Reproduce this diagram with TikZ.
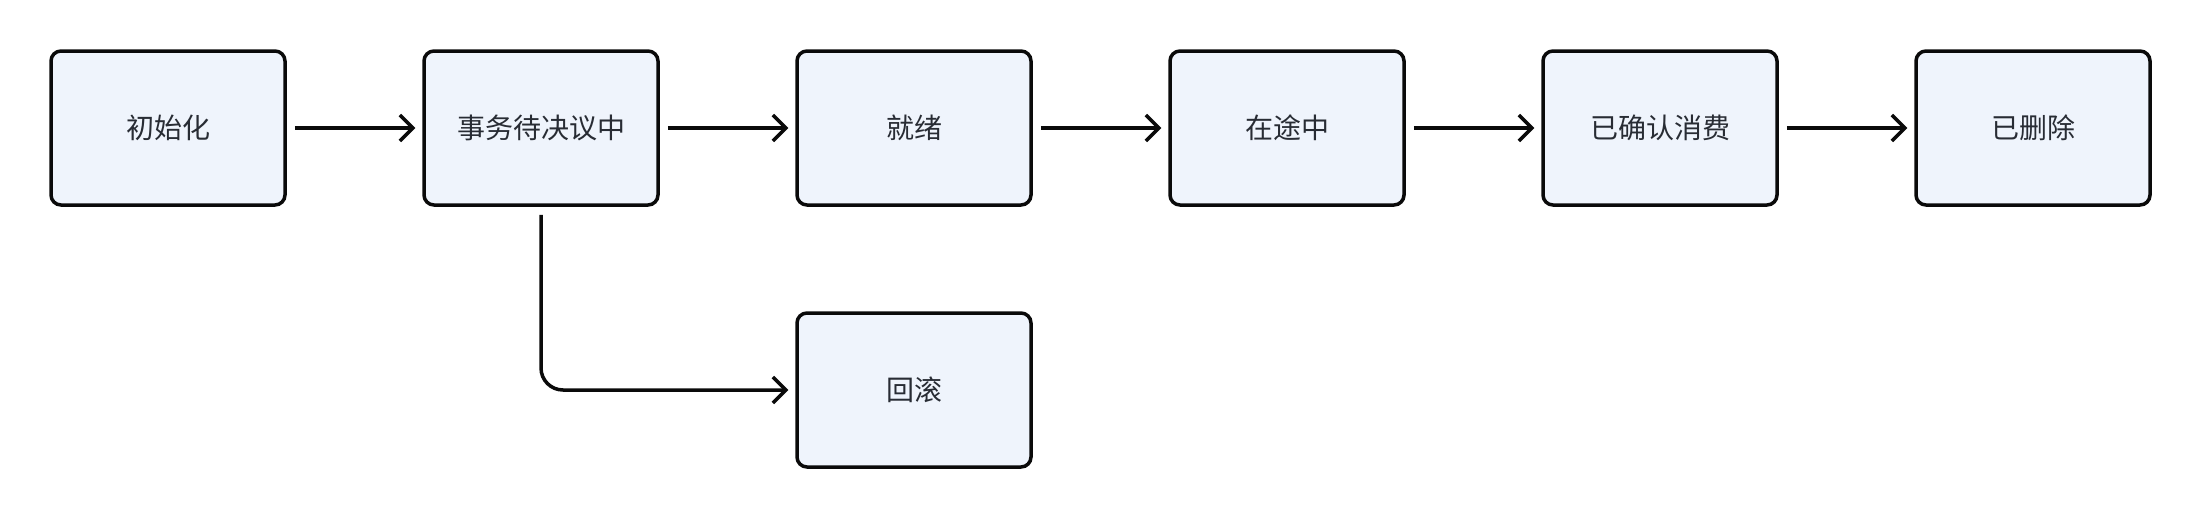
\documentclass[tikz,border=0pt]{standalone}
\usepackage{fontspec}
\newfontfamily\cjk{Noto Sans CJK SC}
\usetikzlibrary{arrows.meta}
\definecolor{boxfill}{RGB}{239,244,252}
\definecolor{boxline}{RGB}{10,10,10}
\definecolor{txt}{RGB}{40,44,52}
\tikzset{
  state/.style={draw=boxline, fill=boxfill, line width=3.5pt, rounded corners=10pt,
    minimum width=234pt, minimum height=154pt, inner sep=0pt,
    font=\cjk\fontsize{28pt}{32pt}\selectfont, text=txt},
  flow/.style={draw=boxline, line width=3.5pt,
    -{Straight Barb[length=13pt,width=26pt,line width=3.5pt]},
    shorten <=8pt, shorten >=7pt}
}
\begin{document}
\begin{tikzpicture}[x=1pt,y=-1pt]
\useasboundingbox (0,0) rectangle (2202,520);
\node[state] (init) at (168,128) {初始化};
\node[state] (pend) at (541,128) {事务待决议中};
\node[state] (ready) at (914,128) {就绪};
\node[state] (transit) at (1287,128) {在途中};
\node[state] (ack) at (1660,128) {已确认消费};
\node[state] (del) at (2033,128) {已删除};
\node[state] (rb) at (914,390) {回滚};
\draw[flow] (init) -- (pend);
\draw[flow] (pend) -- (ready);
\draw[flow] (ready) -- (transit);
\draw[flow] (transit) -- (ack);
\draw[flow] (ack) -- (del);
\draw[flow, rounded corners=22pt] (pend.south) |- (rb.west);
\end{tikzpicture}
\end{document}
